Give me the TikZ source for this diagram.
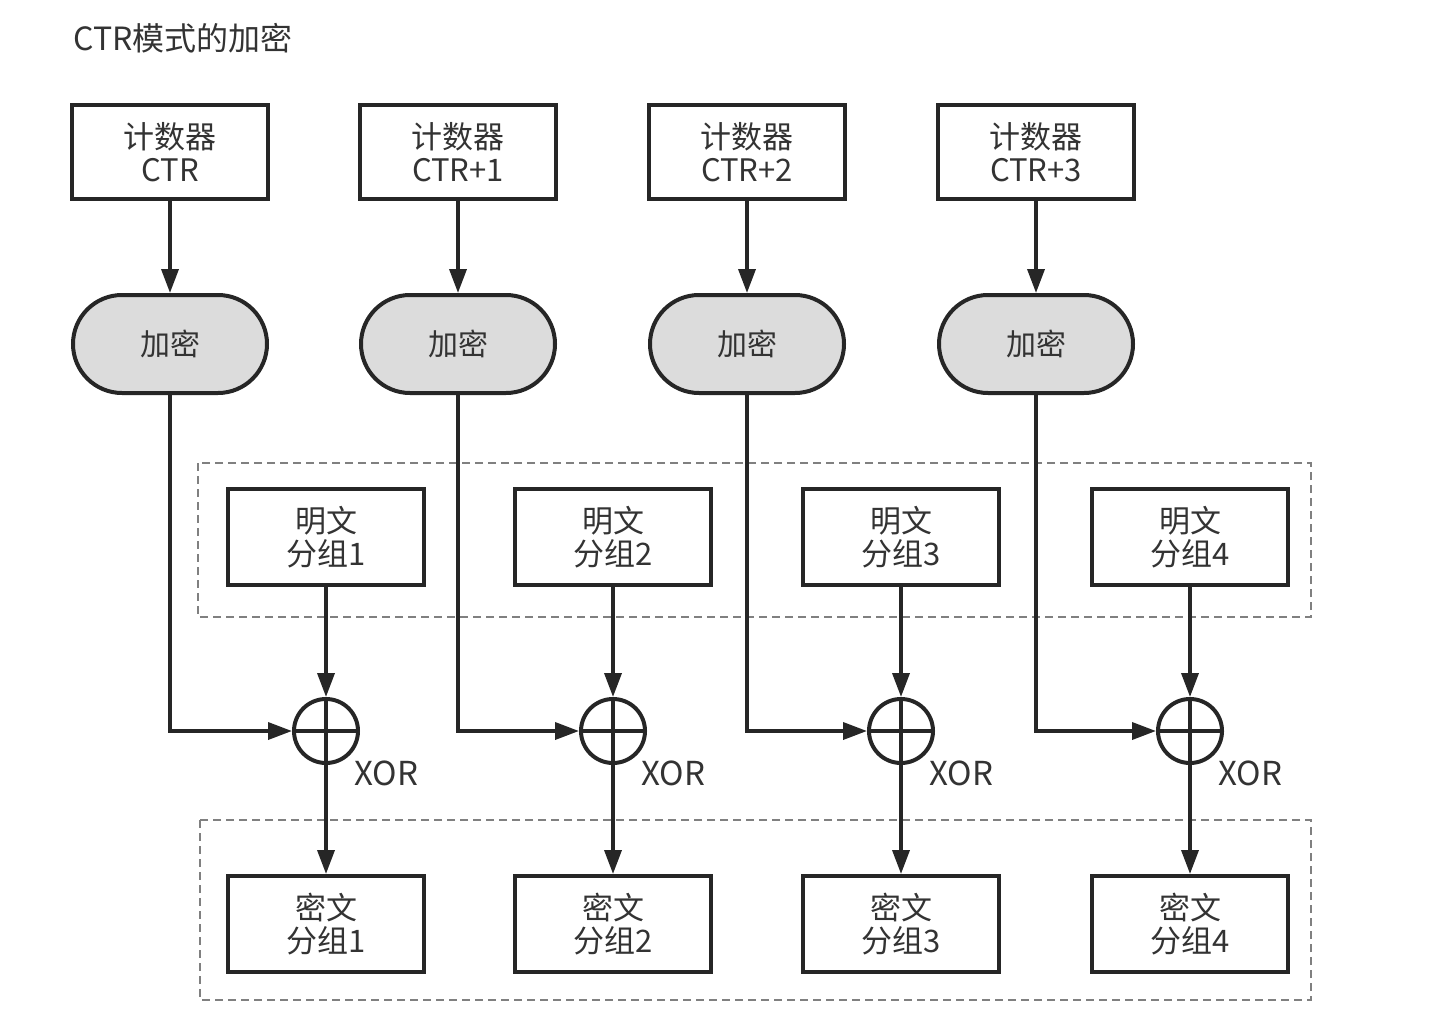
\documentclass[tikz,border=0pt]{standalone}
\usepackage{fontspec}
\setmainfont{Noto Sans CJK SC}
\usetikzlibrary{arrows.meta,positioning,shapes.misc}
\definecolor{ink}{HTML}{262626}
\definecolor{txt}{HTML}{333333}
\definecolor{encfill}{HTML}{DCDCDC}
\tikzset{
  blk/.style={draw=ink, line width=2pt, rectangle, minimum width=98pt, minimum height=47pt, inner sep=0pt, align=center, text=txt, font=\fontsize{15.5}{16.5}\selectfont},
  enc/.style={draw=ink, line width=2pt, rounded rectangle, fill=encfill, minimum width=97pt, minimum height=49pt, inner sep=0pt, text=txt, font=\fontsize{15}{16}\selectfont},
  xorc/.style={draw=ink, line width=2pt, circle, minimum size=32pt, inner sep=0pt},
  conn/.style={draw=ink, line width=1.8pt, -{Triangle[length=12pt,width=8.5pt]}},
  grp/.style={draw=gray, line width=0.7pt, dash pattern=on 4pt off 2.5pt},
  lbl/.style={text=txt, font=\fontsize{16.5}{18}\selectfont, inner sep=0pt}
}
\begin{document}
\begin{tikzpicture}[x=0.5pt,y=-0.5pt]
\useasboundingbox (0,0) rectangle (1454,1032);
\node[text=txt, font=\fontsize{16}{18}\selectfont, anchor=west, inner sep=0pt] (title) at (73,38) {CTR模式的加密};
% dashed groups
\draw[grp] (198,463) rectangle (1311,617);
\draw[grp] (200,820) rectangle (1311,1000);
% columns
\foreach \i/\cx/\px/\lab in {1/170/326/CTR, 2/458/613/CTR+1, 3/747/901/CTR+2, 4/1036/1190/CTR+3}{
  \node[blk] (ctr\i) at (\cx,152) {计数器\\\lab};
  \node[enc] (enc\i) at (\cx,344) {加密};
  \node[blk, minimum height=48pt] (pt\i) at (\px,537) {明文\\分组\i};
  \node[xorc] (x\i) at (\px,731) {};
  \draw[ink, line width=1.8pt] (x\i.north) -- (x\i.south) (x\i.west) -- (x\i.east);
  \node[lbl, anchor=west] (xl\i) at (\px+28,773) {XOR};
  \node[blk, minimum height=48pt] (ct\i) at (\px,924) {密文\\分组\i};
  \coordinate (k\i) at (\cx,731);
  \draw[conn] (ctr\i) -- (enc\i);
  \draw[conn] (enc\i.south) -- (k\i) -- (x\i.west);
  \draw[conn] (pt\i) -- (x\i.north);
  \draw[conn] (x\i.south) -- (ct\i.north);
}
\end{tikzpicture}
\end{document}
